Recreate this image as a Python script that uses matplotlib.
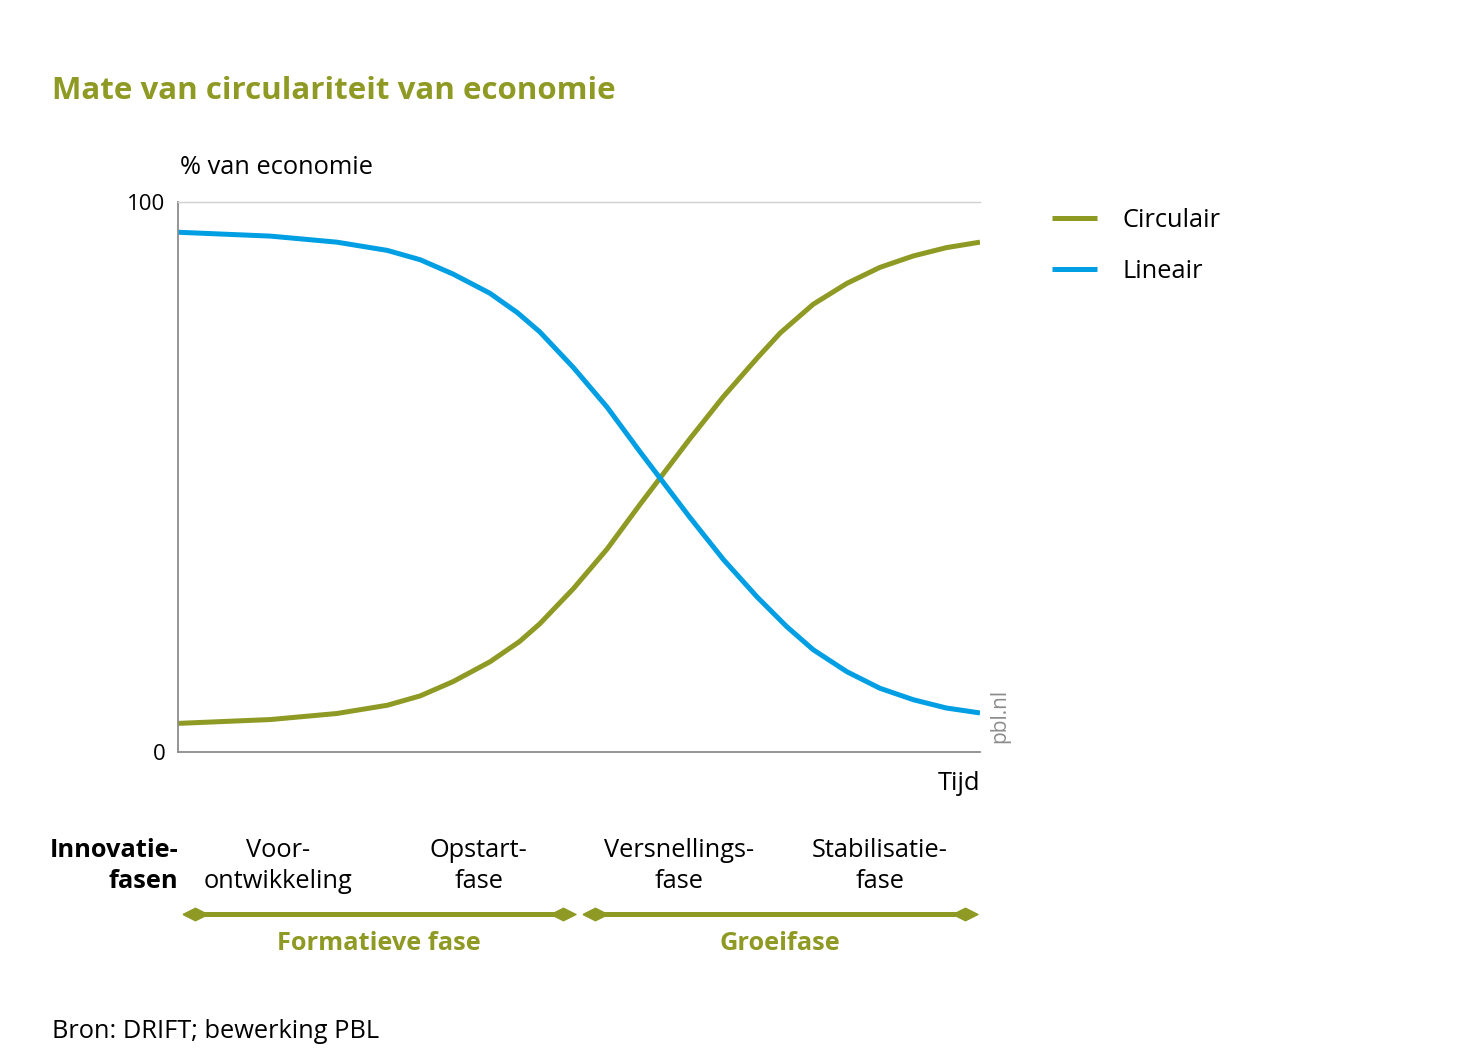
import numpy as np
import matplotlib
matplotlib.use("Agg")
import matplotlib.pyplot as plt
import matplotlib.transforms as mtransforms

plt.rcParams["font.family"] = ["Open Sans", "DejaVu Sans"]

GREEN = "#8e9a23"
BLUE = "#009fe3"

# Data (time 0-100, % of economy)
tijd_c = [0, 11.5, 19.8, 26.1, 30.2, 34.3, 38.9, 42.6, 45.1, 49.3, 53.5, 57.6,
          60.1, 63.8, 68.0, 72.2, 75.1, 79.2, 83.4, 87.5, 91.7, 95.8, 100]
circulair = [5.2, 5.9, 7.0, 8.5, 10.2, 12.8, 16.4, 20.1, 23.3, 29.7, 36.9, 45.0,
             49.8, 56.9, 64.6, 71.6, 76.2, 81.4, 85.2, 88.1, 90.2, 91.7, 92.7]

tijd_l = [0, 11.5, 19.8, 26.1, 30.2, 34.3, 38.9, 42.3, 45.1, 49.3, 53.5, 57.6,
          60.1, 63.8, 68.0, 72.2, 75.9, 79.2, 83.4, 87.5, 91.7, 95.8, 100]
lineair = [94.5, 93.8, 92.7, 91.2, 89.5, 86.9, 83.4, 79.9, 76.4, 69.9, 62.7, 54.6,
           49.8, 42.7, 35.0, 28.2, 22.8, 18.6, 14.6, 11.6, 9.5, 8.0, 7.1]

fasen = ["Voor-\nontwikkeling", "Opstart-\nfase", "Versnellings-\nfase", "Stabilisatie-\nfase"]
fase_pos = [12.5, 37.5, 62.5, 87.5]
groepen = ["Formatieve fase", "Groeifase"]
groep_start = [2.1, 52.0]
groep_eind = [48.0, 98.1]

W, H = 1467, 1054
FS = 18.3
fig = plt.figure(figsize=(W / 100, H / 100), dpi=100)
ax = fig.add_axes([178 / W, 1 - 752 / H, (980 - 178) / W, (752 - 202) / H])

ax.plot(tijd_c, circulair, color=GREEN, lw=3.6, label="Circulair",
        solid_capstyle="butt", solid_joinstyle="round")
ax.plot(tijd_l, lineair, color=BLUE, lw=3.6, label="Lineair",
        solid_capstyle="butt", solid_joinstyle="round")

ax.set_xlim(0, 100)
ax.set_ylim(0, 100)
ax.set_xticks([])
ax.set_yticks([0, 100])
ax.set_yticklabels(["0", "100"])
ax.tick_params(axis="y", length=0, pad=9, labelsize=16)
for s in ["left", "bottom"]:
    ax.spines[s].set_color("#8c8c8c")
    ax.spines[s].set_linewidth(1.3)
ax.spines["top"].set_color("#d0d0d0")
ax.spines["top"].set_linewidth(1.0)
ax.spines["right"].set_visible(False)

ax.legend(loc="upper left", bbox_to_anchor=(1052 / W, 1 - 208 / H),
          bbox_transform=fig.transFigure, frameon=False, fontsize=FS,
          handlelength=1.77, handletextpad=1.0, labelspacing=1.02, borderpad=0,
          borderaxespad=0)

# Titles and labels
fig.text(52 / W, 1 - 91 / H, "Mate van circulariteit van economie", color=GREEN,
         fontsize=22.5, fontweight="bold", va="center", ha="left")
fig.text(180 / W, 1 - 167 / H, "% van economie", fontsize=FS, va="center", ha="left")
ax.text(1.0, -31 / 550, "Tijd", transform=ax.transAxes, ha="right", va="center", fontsize=FS)
ax.text(1.025, 0.065, "pbl.nl", transform=ax.transAxes, rotation=90, ha="center",
        va="center", fontsize=15, color="#8c8c8c")
fig.text(52 / W, 1 - 1031 / H, "Bron: DRIFT; bewerking PBL", fontsize=FS,
         va="center", ha="left")

# Innovation phases below the axis
trans = mtransforms.blended_transform_factory(ax.transData, fig.transFigure)
fig.text(178 / W, 1 - 866 / H, "Innovatie-\nfasen", fontsize=FS, fontweight="bold",
         ha="right", va="center", linespacing=1.3)
for label, x in zip(fasen, fase_pos):
    ax.text(x, 1 - 866 / H, label, transform=trans, ha="center", va="center",
            fontsize=FS, linespacing=1.3, clip_on=False)

diamond = [(-1, 0), (0, 0.5), (1, 0), (0, -0.5), (-1, 0)]
for label, x0, x1 in zip(groepen, groep_start, groep_eind):
    ax.plot([x0, x1], [1 - 914 / H] * 2, transform=trans, color=GREEN, lw=3.6,
            marker=diamond, markersize=18, clip_on=False)
    ax.text((x0 + x1) / 2, 1 - 943 / H, label, transform=trans, ha="center",
            va="center", fontsize=FS, fontweight="bold", color=GREEN, clip_on=False)

fig.savefig("out.png", dpi=100)
